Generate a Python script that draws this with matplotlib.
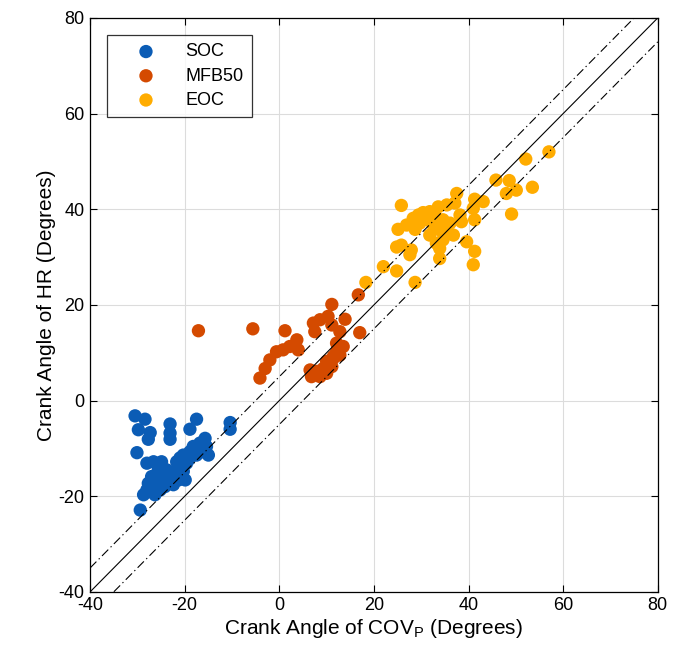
import numpy as np
import matplotlib
matplotlib.use("Agg")
import matplotlib.pyplot as plt

plt.rcParams['font.family'] = ['Liberation Sans', 'DejaVu Sans']
plt.rcParams['mathtext.default'] = 'regular'
plt.rcParams['axes.unicode_minus'] = False

soc_x = [-30.5, -28.4, -29.8, -27.3, -27.7, -23.1, -23.1, -23.1, -17.5, -18.9, -10.4, -10.4,
         -30.1, -15.7, -15.4, -16.8, -18.2, -18.9, -20.3, -24.9, -26.6, -28.0, -21.7, -19.6,
         -17.5, -16.1, -15.0, -25.6, -23.8, -21.7, -20.3, -27.0, -25.2, -23.1, -21.3, -19.9,
         -27.7, -25.9, -24.2, -22.4, -28.7, -27.0, -25.2, -29.4, -28.0, -26.3,
         -24.5, -22.8, -21.0, -19.0, -26.0, -24.0]
soc_y = [-3.2, -3.9, -6.1, -6.7, -8.1, -4.9, -6.8, -8.1, -3.9, -6.0, -4.6, -6.0,
         -10.9, -7.9, -9.6, -8.9, -9.6, -10.7, -11.4, -12.8, -12.8, -13.1, -12.8, -13.1,
         -11.4, -10.7, -11.4, -14.5, -14.5, -14.5, -14.8, -15.9, -16.2, -16.2, -16.6, -16.6,
         -17.3, -18.0, -18.0, -17.6, -19.7, -19.0, -18.7, -22.9, -18.7, -19.7,
         -15.2, -15.5, -12.0, -12.2, -17.0, -16.9]

mfb_x = [-17.1, -5.6, 1.2, 11.1, 16.7, 13.9, 17.0, 7.2, 8.6, 10.3, 7.5, 11.1, 12.8,
         3.7, 2.2, 4.0, -0.6, -2.0, -3.0, -4.1, 0.8, 12.1, 13.5, 12.1, 12.8, 11.4, 10.0,
         11.1, 9.3, 7.9, 6.8, 6.5, 8.6, 10.0, 11.4, 12.8]
mfb_y = [14.6, 15.0, 14.6, 20.1, 22.1, 17.0, 14.2, 16.2, 16.9, 17.6, 14.4, 15.8, 14.4,
         12.7, 11.3, 10.6, 10.2, 8.5, 6.7, 4.7, 10.6, 12.0, 11.3, 10.2, 9.5, 8.8, 8.2,
         7.1, 6.7, 6.1, 5.0, 6.4, 5.0, 5.7, 9.2, 11.0]

eoc_x = [57.0, 52.1, 45.8, 48.6, 48.0, 50.1, 53.5, 49.1, 37.5, 41.3, 43.1, 41.0,
         25.8, 28.3, 30.4, 31.8, 33.6, 35.4, 37.1, 38.2, 38.5, 41.3, 25.1, 26.9, 28.7,
         29.7, 31.5, 33.2, 34.6, 36.1, 31.8, 33.9, 35.4, 36.8, 33.2, 34.6, 33.9, 24.8,
         25.8, 27.6, 27.9, 33.9, 39.6, 41.3, 41.0, 22.0, 24.8, 28.7, 18.3, 29.4, 32.5]
eoc_y = [52.0, 50.5, 46.1, 46.0, 43.3, 44.0, 44.6, 39.0, 43.3, 42.1, 41.6, 40.2,
         40.8, 38.1, 39.3, 39.5, 40.5, 40.9, 41.3, 38.8, 37.4, 37.8, 35.8, 36.7, 35.8,
         37.1, 37.8, 38.1, 37.8, 37.1, 34.6, 35.7, 35.0, 34.6, 32.9, 33.6, 31.8, 32.1,
         32.5, 30.5, 31.5, 29.7, 33.2, 31.2, 28.4, 28.0, 27.1, 24.7, 24.7, 38.8, 36.7]

labels = ['SOC', 'MFB50', 'EOC']
colors = ['#0B5CB5', '#D44A00', '#FFAC00']
ref_x = [-40, 80]
offset = 5

fig = plt.figure(figsize=(6.88, 6.65), dpi=100)
ax = fig.add_axes([0.131, 0.110, 0.825, 0.863])

for xs, ys, lab, c in zip([soc_x, mfb_x, eoc_x], [soc_y, mfb_y, eoc_y], labels, colors):
    ax.scatter(xs, ys, s=92, color=c, label=lab, edgecolors='none', zorder=2)

rx = np.array(ref_x, dtype=float)
ax.plot(rx, rx, color='black', lw=0.8, zorder=3)
ax.plot(rx, rx + offset, color='black', lw=0.8, ls=(0, (8, 3, 1.2, 3)), zorder=3)
ax.plot(rx, rx - offset, color='black', lw=0.8, ls=(0, (8, 3, 1.2, 3)), zorder=3)

ax.set_xlim(-40, 80)
ax.set_ylim(-40, 80)
ax.set_xticks(np.arange(-40, 81, 20))
ax.set_yticks(np.arange(-40, 81, 20))
ax.grid(True, color='#DCDCDC', lw=0.8, zorder=0)
ax.set_axisbelow(True)
ax.tick_params(direction='in', top=True, right=True, labelsize=13, length=5, width=0.8, pad=4)
for sp in ax.spines.values():
    sp.set_linewidth(0.9)

ax.set_xlabel('Crank Angle of COV$_P$ (Degrees)', fontsize=15, labelpad=2)
ax.set_ylabel('Crank Angle of HR (Degrees)', fontsize=15, labelpad=2)

leg = ax.legend(loc='upper left', bbox_to_anchor=(0.030, 0.970), borderaxespad=0,
                fontsize=13, frameon=True, fancybox=False, edgecolor='black',
                handletextpad=0.5, borderpad=0.45, labelspacing=0.4, handlelength=3.4,
                scatterpoints=1)
leg.get_frame().set_linewidth(0.9)

fig.savefig('out.png', dpi=100)
